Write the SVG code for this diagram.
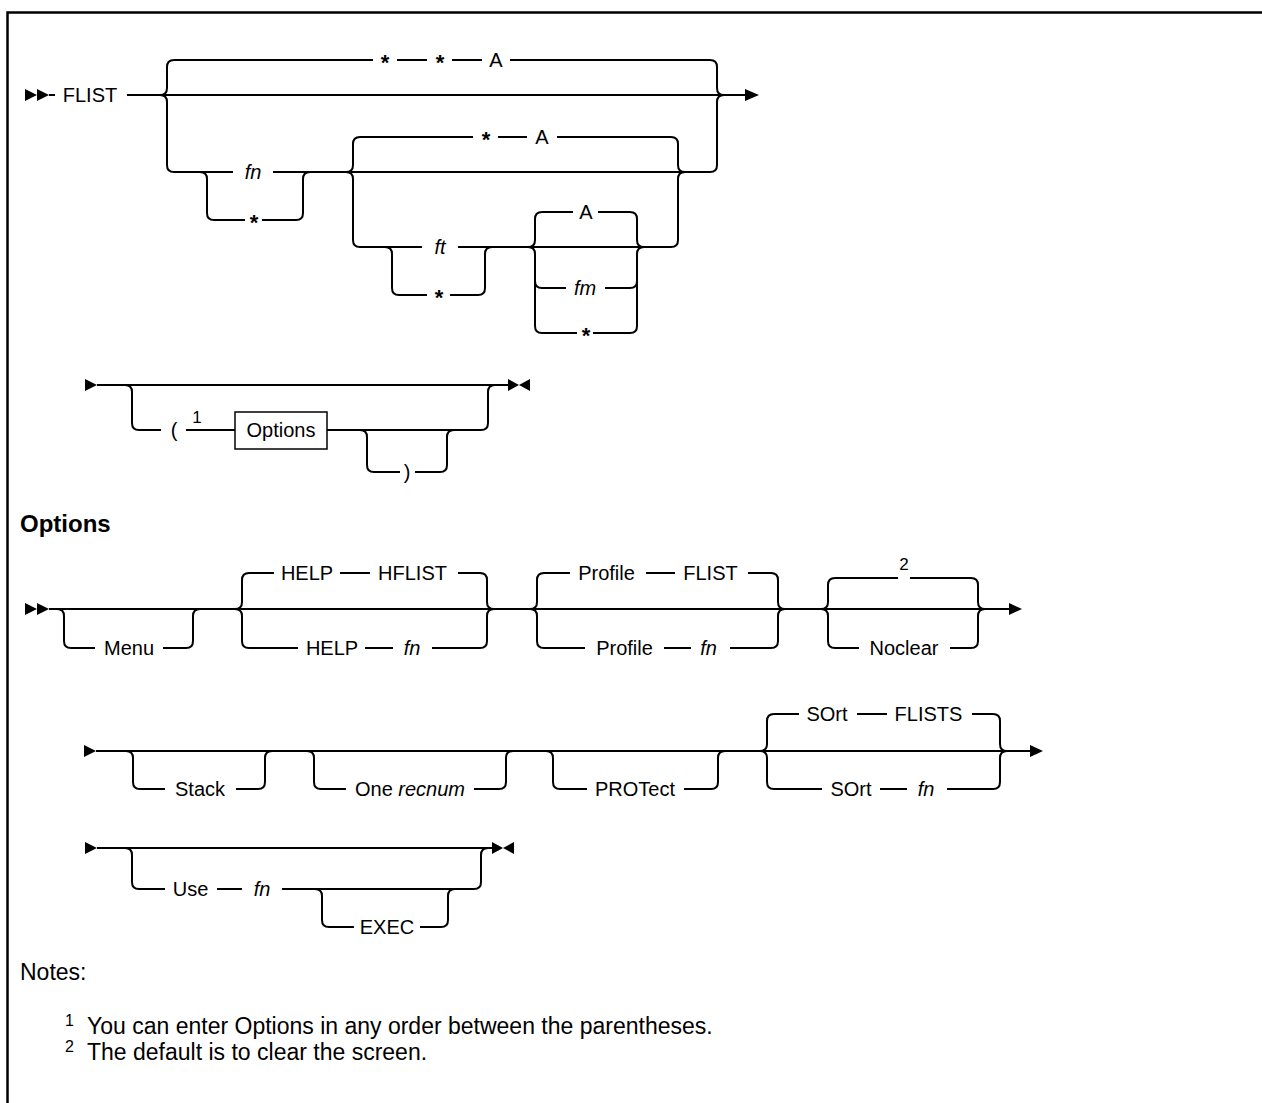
<svg xmlns="http://www.w3.org/2000/svg" width="1262" height="1103" viewBox="0 0 1262 1103">
<style>
.ln{fill:none;stroke:#000;stroke-width:2}
.ah{fill:#000;stroke:none}
.t{font-family:"Liberation Sans",Arial,sans-serif;font-size:20px;fill:#000;text-anchor:middle}
.i{font-style:italic}
.st{font-weight:bold;font-size:22px}
.sup{font-family:"Liberation Sans",Arial,sans-serif;font-size:17px;fill:#000;text-anchor:middle}
.h{font-family:"Liberation Sans",Arial,sans-serif;font-size:24px;font-weight:bold;fill:#000}
.n{font-family:"Liberation Sans",Arial,sans-serif;font-size:23px;fill:#000}
.ns{font-family:"Liberation Sans",Arial,sans-serif;font-size:16px;fill:#000}
</style>
<rect width="1262" height="1103" fill="#fff"/>
<path d="M7.5,1103 V12.5 H1262" fill="none" stroke="#000" stroke-width="2.5"/>

<g id="connectors">
<!-- row 1 -->
<path class="ln" d="M49,95 H55 M127,95 H745"/>
<path class="ln" d="M174,60 Q167,60 167,67 V88 Q167,95 160,95 Q167,95 167,102 V165 Q167,172 174,172"/>
<path class="ln" d="M174,60 H373 M397,60 H427 M452,60 H482 M510,60 H710"/>
<path class="ln" d="M710,60 Q717,60 717,67 V88 Q717,95 724,95 Q717,95 717,102 V165 Q717,172 710,172"/>
<path class="ln" d="M174,172 H233 M273,172 H710"/>
<path class="ln" d="M200,172 Q207,172 207,179 V213 Q207,220 214,220 H245 M262,220 H296 Q303,220 303,213 V179 Q303,172 310,172"/>
<path class="ln" d="M360,137 Q353,137 353,144 V165 Q353,172 346,172 Q353,172 353,179 V240 Q353,247 360,247"/>
<path class="ln" d="M360,137 H473 M498,137 H527 M557,137 H671"/>
<path class="ln" d="M671,137 Q678,137 678,144 V165 Q678,172 685,172 Q678,172 678,179 V240 Q678,247 671,247"/>
<path class="ln" d="M360,247 H422 M458,247 H671"/>
<path class="ln" d="M385,247 Q392,247 392,254 V288 Q392,295 399,295 H427 M450,295 H478 Q485,295 485,288 V254 Q485,247 492,247"/>
<path class="ln" d="M542,212 Q535,212 535,219 V240 Q535,247 528,247 Q535,247 535,254 V326 Q535,333 542,333 M535,281 Q535,288 542,288"/>
<path class="ln" d="M542,212 H573 M598,212 H630 M542,288 H566 M605,288 H630 M542,333 H577 M593,333 H630"/>
<path class="ln" d="M630,212 Q637,212 637,219 V240 Q637,247 644,247 Q637,247 637,254 V326 Q637,333 630,333 M630,288 Q637,288 637,281"/>
<polygon class="ah" points="25,89 37,95 25,101"/>
<polygon class="ah" points="37,89 49,95 37,101"/>
<polygon class="ah" points="745,89 759,95 745,101"/>

<!-- row 2 -->
<path class="ln" d="M97,385 H508"/>
<path class="ln" d="M125,385 Q132,385 132,392 V423 Q132,430 139,430 H161 M186,430 H235 M327,430 H481 Q488,430 488,423 V392 Q488,385 495,385"/>
<path class="ln" d="M360,430 Q367,430 367,437 V465 Q367,472 374,472 H400 M415,472 H440 Q447,472 447,465 V437 Q447,430 454,430"/>
<polygon class="ah" points="85,379 97,385 85,391"/>
<polygon class="ah" points="508,379 519,385 508,391"/>
<polygon class="ah" points="530,379 519,385 530,391"/>

<!-- row 3 -->
<path class="ln" d="M49,609 H1009"/>
<path class="ln" d="M57,609 Q64,609 64,616 V641 Q64,648 71,648 H95 M163,648 H186 Q193,648 193,641 V616 Q193,609 200,609"/>
<path class="ln" d="M249,573 Q242,573 242,580 V602 Q242,609 235,609 Q242,609 242,616 V641 Q242,648 249,648"/>
<path class="ln" d="M249,573 H274 M340,573 H370 M458,573 H480 M249,648 H298 M365,648 H393 M432,648 H480"/>
<path class="ln" d="M480,573 Q487,573 487,580 V602 Q487,609 494,609 Q487,609 487,616 V641 Q487,648 480,648"/>
<path class="ln" d="M544,573 Q537,573 537,580 V602 Q537,609 530,609 Q537,609 537,616 V641 Q537,648 544,648"/>
<path class="ln" d="M544,573 H570 M646,573 H675 M748,573 H771 M544,648 H585 M664,648 H691 M730,648 H771"/>
<path class="ln" d="M771,573 Q778,573 778,580 V602 Q778,609 785,609 Q778,609 778,616 V641 Q778,648 771,648"/>
<path class="ln" d="M835,578 Q828,578 828,585 V602 Q828,609 821,609 Q828,609 828,616 V641 Q828,648 835,648"/>
<path class="ln" d="M835,578 H898 M910,578 H971 M835,648 H859 M950,648 H971"/>
<path class="ln" d="M971,578 Q978,578 978,585 V602 Q978,609 985,609 Q978,609 978,616 V641 Q978,648 971,648"/>
<polygon class="ah" points="25,603 37,609 25,615"/>
<polygon class="ah" points="37,603 49,609 37,615"/>
<polygon class="ah" points="1009,603 1022,609 1009,615"/>

<!-- row 4 -->
<path class="ln" d="M96,751 H1030"/>
<path class="ln" d="M126,751 Q133,751 133,758 V782 Q133,789 140,789 H165 M236,789 H258 Q265,789 265,782 V758 Q265,751 272,751"/>
<path class="ln" d="M307,751 Q314,751 314,758 V782 Q314,789 321,789 H346 M474,789 H499 Q506,789 506,782 V758 Q506,751 513,751"/>
<path class="ln" d="M546,751 Q553,751 553,758 V782 Q553,789 560,789 H587 M684,789 H711 Q718,789 718,782 V758 Q718,751 725,751"/>
<path class="ln" d="M774,714 Q767,714 767,721 V744 Q767,751 760,751 Q767,751 767,758 V782 Q767,789 774,789"/>
<path class="ln" d="M774,714 H799 M857,714 H887 M972,714 H993 M774,789 H822 M880,789 H907 M947,789 H993"/>
<path class="ln" d="M993,714 Q1000,714 1000,721 V744 Q1000,751 1007,751 Q1000,751 1000,758 V782 Q1000,789 993,789"/>
<polygon class="ah" points="84,745 96,751 84,757"/>
<polygon class="ah" points="1030,745 1043,751 1030,757"/>

<!-- row 5 -->
<path class="ln" d="M97,848 H492"/>
<path class="ln" d="M125,848 Q132,848 132,855 V882 Q132,889 139,889 H165 M217,889 H242 M282,889 H474 Q481,889 481,882 V855 Q481,848 488,848"/>
<path class="ln" d="M315,889 Q322,889 322,896 V920 Q322,927 329,927 H354 M420,927 H441 Q448,927 448,920 V896 Q448,889 455,889"/>
<polygon class="ah" points="85,842 97,848 85,854"/>
<polygon class="ah" points="492,842 503,848 492,854"/>
<polygon class="ah" points="514,842 503,848 514,854"/>
</g>

<g id="row1-nodes">
<g id="n-flist"><text class="t" x="90" y="102">FLIST</text></g>
<g id="n-top-star1"><text class="t st" x="385" y="70">*</text></g>
<g id="n-top-star2"><text class="t st" x="440" y="70">*</text></g>
<g id="n-top-a"><text class="t" x="496" y="67">A</text></g>
<g id="n-fn"><text class="t i" x="253" y="179">fn</text></g>
<g id="n-fn-star"><text class="t st" x="254" y="230">*</text></g>
<g id="n-mid-star"><text class="t st" x="486" y="147">*</text></g>
<g id="n-mid-a"><text class="t" x="542" y="144">A</text></g>
<g id="n-ft"><text class="t i" x="440" y="254">ft</text></g>
<g id="n-ft-star"><text class="t st" x="439" y="305">*</text></g>
<g id="n-fm-a"><text class="t" x="586" y="219">A</text></g>
<g id="n-fm"><text class="t i" x="585" y="295">fm</text></g>
<g id="n-fm-star"><text class="t st" x="586" y="343">*</text></g>
</g>

<g id="row2-nodes">
<g id="n-lparen"><text class="t" x="174" y="437">(</text><text class="sup" x="197" y="423">1</text></g>
<g id="n-options-ref"><rect x="235" y="412" width="92" height="37" fill="#fff" stroke="#000" stroke-width="1.5"/><text class="t" x="281" y="437">Options</text></g>
<g id="n-rparen"><text class="t" x="407" y="479">)</text></g>
</g>

<g id="title"><text class="h" x="20" y="532">Options</text></g>

<g id="row3-nodes">
<g id="n-menu"><text class="t" x="129" y="655">Menu</text></g>
<g id="n-help-hflist"><text class="t" x="307" y="580">HELP</text><text class="t" x="412.5" y="580">HFLIST</text></g>
<g id="n-help-fn"><text class="t" x="332" y="655">HELP</text><text class="t i" x="412" y="655">fn</text></g>
<g id="n-profile-flist"><text class="t" x="606.5" y="580">Profile</text><text class="t" x="710.5" y="580">FLIST</text></g>
<g id="n-profile-fn"><text class="t" x="624.5" y="655">Profile</text><text class="t i" x="708.5" y="655">fn</text></g>
<g id="n-default2"><text class="sup" x="904" y="570">2</text></g>
<g id="n-noclear"><text class="t" x="904" y="655">Noclear</text></g>
</g>

<g id="row4-nodes">
<g id="n-stack"><text class="t" x="200" y="796">Stack</text></g>
<g id="n-one"><text class="t" x="410" y="796">One <tspan class="i">recnum</tspan></text></g>
<g id="n-protect"><text class="t" x="635" y="796">PROTect</text></g>
<g id="n-sort-flists"><text class="t" x="827" y="721">SOrt</text><text class="t" x="928.5" y="721">FLISTS</text></g>
<g id="n-sort-fn"><text class="t" x="851" y="796">SOrt</text><text class="t i" x="926" y="796">fn</text></g>
</g>

<g id="row5-nodes">
<g id="n-use"><text class="t" x="190.5" y="896">Use</text><text class="t i" x="262" y="896">fn</text></g>
<g id="n-exec"><text class="t" x="387" y="934">EXEC</text></g>
</g>

<g id="notes">
<text class="n" x="20" y="980">Notes:</text>
<text class="ns" x="65" y="1026">1</text>
<text class="n" x="87" y="1034">You can enter Options in any order between the parentheses.</text>
<text class="ns" x="65" y="1052">2</text>
<text class="n" x="87" y="1060">The default is to clear the screen.</text>
</g>
</svg>
